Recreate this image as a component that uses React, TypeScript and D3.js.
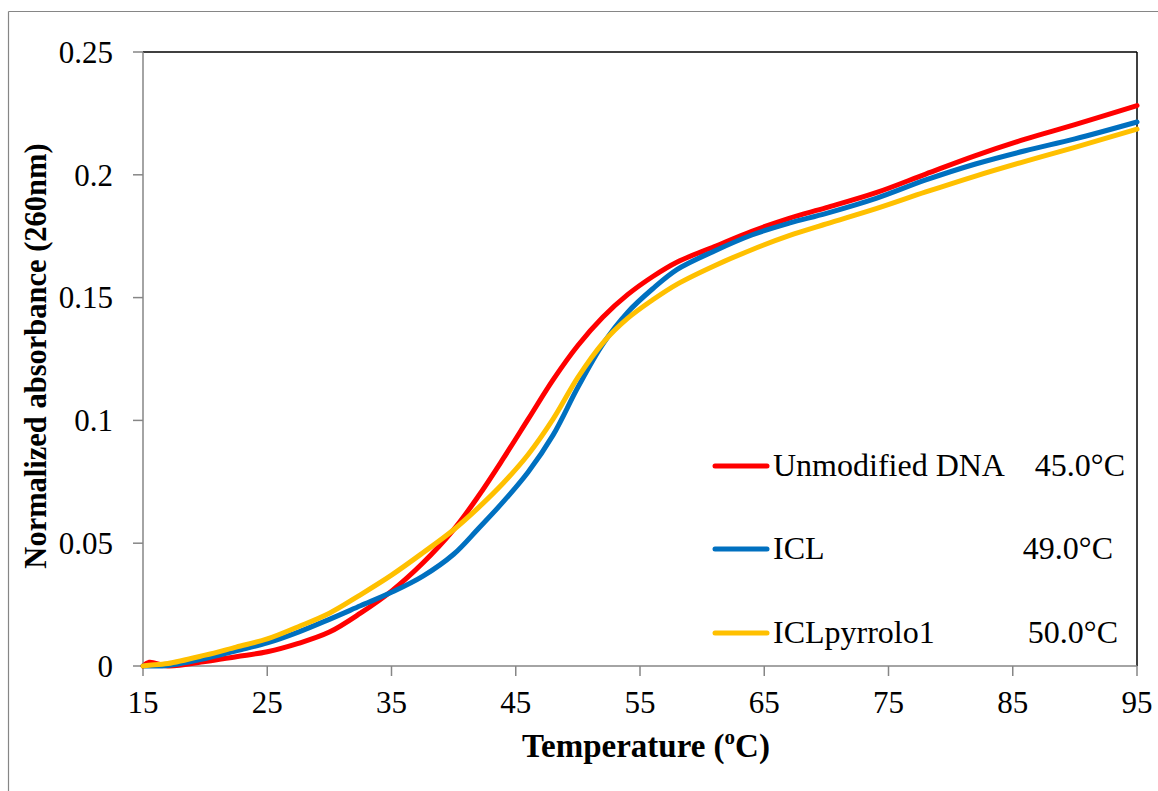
import React from "react";
import * as d3 from "d3";

const temperatures = [15, 15.5, 17, 20, 22.5, 25, 27.5, 30, 32.5, 35, 37.5, 40, 42, 44, 46, 48, 50, 52, 54, 56, 58, 61, 64, 67, 70, 74, 78, 82, 86, 90, 95];
const unmodified = [0.0, 0.0015, 0.0, 0.0018, 0.0038, 0.0058, 0.0092, 0.0138, 0.0215, 0.0305, 0.0418, 0.0555, 0.0692, 0.0845, 0.1005, 0.1165, 0.1305, 0.142, 0.1512, 0.1585, 0.1645, 0.1708, 0.177, 0.1823, 0.1866, 0.1927, 0.2003, 0.2078, 0.2145, 0.2204, 0.2282];
const icl = [0.0, 0.0, 0.0002, 0.003, 0.0062, 0.0094, 0.0138, 0.019, 0.0245, 0.030, 0.0365, 0.0455, 0.056, 0.0669, 0.079, 0.094, 0.1135, 0.131, 0.144, 0.1535, 0.1615, 0.169, 0.1755, 0.1803, 0.1843, 0.1904, 0.1979, 0.2044, 0.2098, 0.2146, 0.2215];
const iclPyrrolo = [0.0, 0.0003, 0.001, 0.0044, 0.0077, 0.011, 0.016, 0.0215, 0.029, 0.037, 0.046, 0.0555, 0.0645, 0.0745, 0.0861, 0.1005, 0.1175, 0.1315, 0.1415, 0.149, 0.1555, 0.163, 0.1695, 0.1752, 0.18, 0.1862, 0.193, 0.1995, 0.2055, 0.2112, 0.2186];

const seriesNames = ["Unmodified DNA", "ICL", "ICLpyrrolo1"];
const seriesTm = ["45.0°C", "49.0°C", "50.0°C"];
const seriesColors = ["#FF0000", "#0070C0", "#FFC000"];
const xTicks = [15, 25, 35, 45, 55, 65, 75, 85, 95];
const yTicks = [0, 0.05, 0.1, 0.15, 0.2, 0.25];

export default function App() {
  const left = 143, right = 1137, top = 52, bottom = 666;
  const x = d3.scaleLinear().domain([15, 95]).range([left, right]);
  const y = d3.scaleLinear().domain([0, 0.25]).range([bottom, top]);
  const allSeries = [unmodified, icl, iclPyrrolo];
  const line = d3
    .line<[number, number]>()
    .x((d) => x(d[0]))
    .y((d) => y(d[1]))
    .curve(d3.curveCatmullRom.alpha(0.5));
  const font = "'Liberation Serif', 'Times New Roman', serif";
  const gray = "#868686";
  const legendY = [466, 549, 633];
  const tmX = [1125, 1113, 1118];

  return (
    <svg
      width={1158}
      height={791}
      style={{ position: "absolute", left: 0, top: 0, background: "#fff" }}
      fontFamily={font}
    >
      <rect x={0} y={0} width={1158} height={791} fill="#fff" />
      {/* outer chart border */}
      <line x1={8.5} y1={11.5} x2={1158} y2={11.5} stroke={gray} strokeWidth={1.2} />
      <line x1={8.5} y1={11.5} x2={8.5} y2={791} stroke={gray} strokeWidth={1.2} />

      {/* plot frame */}
      <line x1={left} y1={top} x2={right} y2={top} stroke="#000" strokeWidth={1.5} />
      <line x1={right} y1={top} x2={right} y2={bottom} stroke="#000" strokeWidth={1.5} />
      <line x1={left} y1={top} x2={left} y2={bottom} stroke={gray} strokeWidth={1.5} />
      <line x1={left} y1={bottom} x2={right} y2={bottom} stroke={gray} strokeWidth={1.5} />

      {yTicks.map((t) => (
        <g key={"y" + t}>
          <line x1={left - 10} x2={left} y1={y(t)} y2={y(t)} stroke={gray} strokeWidth={1.5} />
          <text x={113} y={y(t)} dy="0.35em" textAnchor="end" fontSize={31} fill="#000">
            {String(t)}
          </text>
        </g>
      ))}
      {xTicks.map((t) => (
        <g key={"x" + t}>
          <line x1={x(t)} x2={x(t)} y1={bottom} y2={bottom + 10} stroke={gray} strokeWidth={1.5} />
          <text x={x(t)} y={713} textAnchor="middle" fontSize={31} fill="#000">
            {String(t)}
          </text>
        </g>
      ))}

      {allSeries.map((vals, i) => (
        <path
          key={"s" + i}
          d={line(temperatures.map((t, j) => [t, vals[j]] as [number, number])) || ""}
          fill="none"
          stroke={seriesColors[i]}
          strokeWidth={5}
          strokeLinejoin="round"
          strokeLinecap="round"
        />
      ))}

      {/* legend */}
      {seriesNames.map((name, i) => (
        <g key={"l" + i}>
          <line x1={715} x2={767} y1={legendY[i]} y2={legendY[i]} stroke={seriesColors[i]} strokeWidth={5} strokeLinecap="round" />
          <text x={773} y={legendY[i] + 10} fontSize={32} fill="#000">
            {name}
          </text>
          <text x={tmX[i]} y={legendY[i] + 10} fontSize={32} textAnchor="end" fill="#000">
            {seriesTm[i]}
          </text>
        </g>
      ))}

      {/* axis titles */}
      <text x={646} y={757} textAnchor="middle" fontSize={33} fontWeight="bold" fill="#000">
        Temperature (<tspan fontSize={21} dy={-13}>o</tspan>
        <tspan dy={13}>C)</tspan>
      </text>
      <text
        transform={`translate(46,${356}) rotate(-90)`}
        textAnchor="middle"
        fontSize={30.5}
        fontWeight="bold"
        fill="#000"
      >
        Normalized absorbance (260nm)
      </text>
    </svg>
  );
}
